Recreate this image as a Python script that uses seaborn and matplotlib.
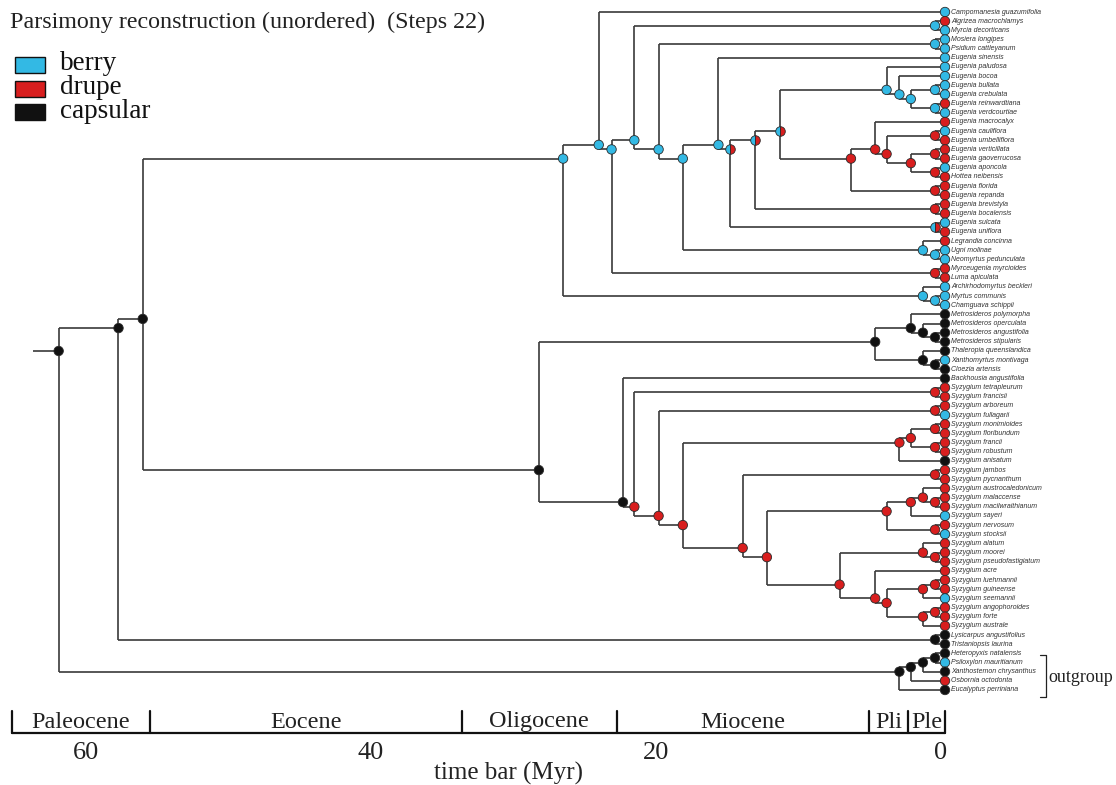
import numpy as np
import pandas as pd
import matplotlib
matplotlib.use("Agg")
import matplotlib.pyplot as plt
import matplotlib.transforms as mtransforms
from matplotlib.collections import LineCollection
from matplotlib.patches import Rectangle
import seaborn as sns

sns.set_style("white")
plt.rcParams['font.family'] = ['Liberation Serif', 'DejaVu Serif']

# --- dados -------------------------------------------------------------
tipNames = [
    "Campomanesia guazumifolia", "Algrizea macrochlamys", "Myrcia decorticans",
    "Mosiera longipes", "Psidium cattleyanum", "Eugenia sinensis",
    "Eugenia paludosa", "Eugenia bocoa", "Eugenia bullata", "Eugenia crebulata",
    "Eugenia reinwardtiana", "Eugenia verdcourtiae", "Eugenia macrocalyx",
    "Eugenia cauliflora", "Eugenia umbelliflora", "Eugenia verticillata",
    "Eugenia gaoverrucosa", "Eugenia aponcola", "Hottea neibensis",
    "Eugenia florida", "Eugenia repanda", "Eugenia brevistyla",
    "Eugenia bocalensis", "Eugenia sulcata", "Eugenia uniflora",
    "Legrandia concinna", "Ugni molinae", "Neomyrtus pedunculata",
    "Myrceugenia myrcioides", "Luma apiculata", "Archirhodomyrtus beckleri",
    "Myrtus communis", "Chamguava schippii", "Metrosideros polymorpha",
    "Metrosideros operculata", "Metrosideros angustifolia",
    "Metrosideros stipularis", "Thaleropia queenslandica",
    "Xanthomyrtus montivaga", "Cloezia artensis", "Backhousia angustifolia",
    "Syzygium tetrapleurum", "Syzygium francisii", "Syzygium arboreum",
    "Syzygium fullagarii", "Syzygium monimioides", "Syzygium floribundum",
    "Syzygium francii", "Syzygium robustum", "Syzygium anisatum",
    "Syzygium jambos", "Syzygium pycnanthum", "Syzygium austrocaledonicum",
    "Syzygium malaccense", "Syzygium macilwraithianum", "Syzygium sayeri",
    "Syzygium nervosum", "Syzygium stocksii", "Syzygium alatum",
    "Syzygium moorei", "Syzygium pseudofastigiatum", "Syzygium acre",
    "Syzygium luehmannii", "Syzygium guineense", "Syzygium seemannii",
    "Syzygium angophoroides", "Syzygium forte", "Syzygium australe",
    "Lysicarpus angustifolius", "Tristaniopsis laurina",
    "Heteropyxis natalensis", "Psiloxylon mauritianum",
    "Xanthostemon chrysanthus", "Osbornia octodonta", "Eucalyptus perriniana",
]

# b = berry, r = drupe, k = capsular, h = berry/drupe equivocal
tipStates = list("brbbbbbbbbrbrbrrrbrrrrrbrrbbrrbbb" "kkkkkbkk" "rrrbrrrrkrrrrrbrbrrrrrrbrrr" "kkkbkrk")

# topologia com estado e idade (Myr) de cada nó interno
outgroupClade = "((((71,72)k0.7,73)k1.55,74)k2.4,75)k3.2"
eugeniaBerry = "(7,(8,((9,10)b0.7,(11,12)b0.7)b2.4)b3.2)b4.1"
eugeniaDrupe = "((13,((14,15)r0.7,((16,17)r0.7,(18,19)r0.7)r2.4)r4.1)r4.9,(20,21)r0.7)r6.6"
eugeniaClade = f"(6,((({eugeniaBerry},{eugeniaDrupe})h11.6,(22,23)r0.7)h13.3,(24,25)h0.7)h15.1)b15.9"
myrteae = (f"((1,(((2,3)b0.7,((4,5)b0.7,({eugeniaClade},(26,(27,28)b0.7)b1.55)b18.4)b20.1)b21.8,"
           f"(29,30)r0.7)b23.4)b24.3,(31,(32,33)b0.7)b1.55)b26.8")
metrosideros = "((34,(35,(36,37)k0.7)k1.55)k2.4,(38,(39,40)k0.7)k1.55)k4.9"
syzA = "(((46,47)r0.7,(48,49)r0.7)r2.4,50)r3.2"
syzB = "(((53,(54,55)r0.7)r1.55,56)r2.4,(57,58)r0.7)r4.1"
syzC = "((59,(60,61)r0.7)r1.55,(62,(((63,64)r0.7,65)r1.55,((66,67)r0.7,68)r1.55)r4.1)r4.9)r7.4"
syzygium = f"(41,((42,43)r0.7,((44,45)r0.7,({syzA},((51,52)r0.7,({syzB},{syzC})r12.5)r14.2)r18.4)r20.1)r21.8)k22.6"
treeNewick = f"((({myrteae},({metrosideros},{syzygium})k28.5)k56.3,(69,70)k0.7)k58.0,{outgroupClade})k62.2"
rootStubAge = 64.0

legendLabels = ["berry", "drupe", "capsular"]
stateColors = {"b": "#33b9e4", "r": "#d81e1e", "k": "#111111"}

epochNames = ["Paleocene", "Eocene", "Oligocene", "Miocene", "Pli", "Ple"]
epochBounds = [65.5, 55.8, 33.9, 23.03, 5.33, 2.59, 0.0]
timeTicks = [60, 40, 20, 0]

# escala: pixel = 945 - 14.25 * idade ; linha das pontas = 12 + 9.162 * indice
PX_ZERO, PX_PER_MYR = 945, 14.25
TIP_TOP, TIP_STEP = 12, 9.162
W, H = 1116, 785


def parseNewick(texto, i=0):
    """Lê a string da árvore e devolve um dicionário aninhado"""
    if texto[i] == '(':
        filhos = []
        i += 1
        while True:
            filho, i = parseNewick(texto, i)
            filhos.append(filho)
            fim = texto[i]
            i += 1
            if fim == ')':
                break
        estado = texto[i]
        i += 1
        j = i
        while j < len(texto) and texto[j] not in ',)':
            j += 1
        return {'filhos': filhos, 'estado': estado, 'idade': float(texto[i:j])}, j
    j = i
    while j < len(texto) and texto[j].isdigit():
        j += 1
    indice = int(texto[i:j]) - 1
    return {'tip': indice, 'estado': tipStates[indice], 'idade': 0.0}, j


def layout(no):
    """Posição vertical de cada nó = média das pontas descendentes"""
    if 'tip' in no:
        no['tips'] = [no['tip']]
    else:
        no['tips'] = []
        for f in no['filhos']:
            layout(f)
            no['tips'] += f['tips']
    no['pos'] = float(np.mean(no['tips']))


def coletar(no, segmentos, nos):
    nos.append(no)
    if 'tip' in no:
        return
    ys = [f['pos'] for f in no['filhos']]
    segmentos.append([(no['idade'], min(ys)), (no['idade'], max(ys))])
    for f in no['filhos']:
        segmentos.append([(no['idade'], f['pos']), (f['idade'], f['pos'])])
        coletar(f, segmentos, nos)


def main():
    raiz, _ = parseNewick(treeNewick)
    layout(raiz)
    segmentos, nos = [], []
    coletar(raiz, segmentos, nos)
    segmentos.append([(rootStubAge, raiz['pos']), (raiz['idade'], raiz['pos'])])

    fig = plt.figure(figsize=(W / 100, H / 100), dpi=100)
    ax = fig.add_axes([0, 0, 1, 1])
    over = fig.add_axes([0, 0, 1, 1], facecolor='none')

    ax.add_collection(LineCollection(segmentos, colors='#3a3a3a', linewidths=1.2, zorder=1))

    dfNos = pd.DataFrame({'idade': [n['idade'] for n in nos],
                          'pos': [n['pos'] for n in nos],
                          'estado': [n['estado'] for n in nos]})
    solidos = dfNos[dfNos['estado'] != 'h']
    sns.scatterplot(data=solidos, x='idade', y='pos', hue='estado', palette=stateColors,
                    s=46, edgecolor='#2a2a2a', linewidth=0.6, legend=False, ax=ax, zorder=3)
    meio = dfNos[dfNos['estado'] == 'h']
    ax.plot(meio['idade'], meio['pos'], 'o', ms=6.9, fillstyle='left',
            markerfacecolor=stateColors['b'], markerfacecoloralt=stateColors['r'],
            markeredgecolor='#2a2a2a', mew=0.6, zorder=4)

    for i, nome in enumerate(tipNames):
        ax.text(-0.45, i, nome, fontsize=5.0, style='italic', va='center', ha='left',
                color='#333333', family=['Liberation Sans', 'DejaVu Sans'])

    ax.set_xlim(PX_ZERO / PX_PER_MYR, (PX_ZERO - W) / PX_PER_MYR)
    ax.set_ylim((H - TIP_TOP) / TIP_STEP, -TIP_TOP / TIP_STEP)
    ax.axis('off')

    over.set_xlim(0, W)
    over.set_ylim(H, 0)
    over.axis('off')
    bt = mtransforms.blended_transform_factory(ax.transData, over.transData)

    # título e legenda
    over.text(10, 22, "Parsimony reconstruction (unordered)  (Steps 22)",
              fontsize=17.3, va='center', color='#222222')
    for k, (rotulo, est) in enumerate(zip(legendLabels, ['b', 'r', 'k'])):
        y0 = 57 + k * 23.5
        over.add_patch(Rectangle((15, y0), 30, 16, facecolor=stateColors[est],
                                 edgecolor='#111111', lw=1.0))
        over.text(60, y0 + 7, rotulo, fontsize=19.5, va='center', color='#111111')

    # outgroup
    over.plot([1040, 1046, 1046, 1040], [655, 655, 697, 697], color='#222222', lw=0.9)
    over.text(1048, 677, "outgroup", fontsize=13, va='center', color='#222222')

    # barra de tempo
    ax.plot([epochBounds[0], epochBounds[-1]], [733, 733], transform=bt, color='#111111', lw=1.6)
    for b in epochBounds:
        ax.plot([b, b], [711, 733], transform=bt, color='#111111', lw=1.6)
    for nome, a, b in zip(epochNames, epochBounds[:-1], epochBounds[1:]):
        ax.text((a + b) / 2, 722, nome, transform=bt, fontsize=17.5, ha='center',
                va='center', color='#222222')
    desloca = bt + mtransforms.ScaledTranslation(-4 / 100, 0, fig.dpi_scale_trans)
    for t in timeTicks:
        ax.text(t, 753, str(t), transform=desloca, fontsize=19, ha='center', va='center',
                color='#222222')
    over.text(509, 773, "time bar (Myr)", fontsize=18, ha='center', va='center',
              color='#222222')

    fig.savefig("out.png", dpi=100)


if __name__ == "__main__":
    main()
